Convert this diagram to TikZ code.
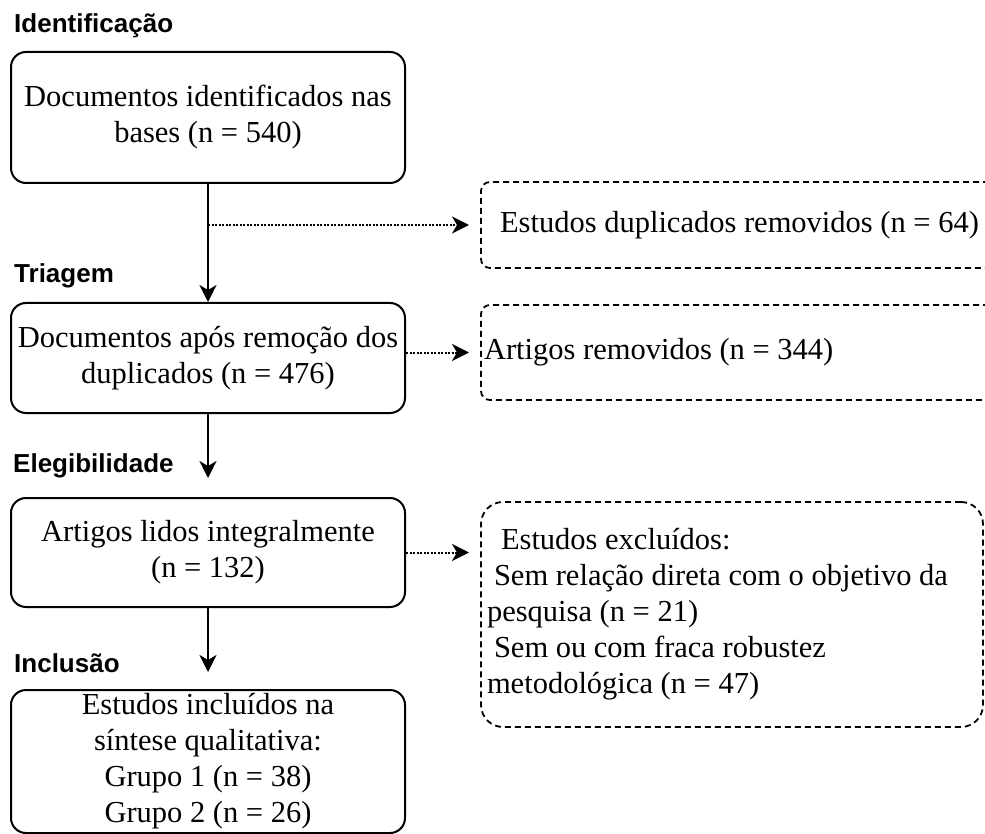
\documentclass[tikz,border=0pt]{standalone}
\usepackage{fontspec}
\setmainfont{Liberation Serif}
\newfontfamily\headfont{Liberation Sans}
\usepackage{tikz}
\usetikzlibrary{arrows.meta, positioning}

\begin{document}
\begin{tikzpicture}[
  x=1pt, y=-1pt,
  stage/.style={rectangle, draw=black, line width=2pt, rounded corners=15pt,
               minimum width=394pt, align=center, inner sep=0pt,
               font=\fontsize{30.5}{36}\selectfont},
  outbox/.style={rectangle, draw=black, line width=1.8pt, dash pattern=on 6pt off 4pt,
               rounded corners=9pt, inner xsep=5pt, inner ysep=0pt,
               outer xsep=12pt, outer ysep=0pt,
               font=\fontsize{30.5}{36}\selectfont},
  phase/.style={anchor=base west, inner sep=0pt,
               font=\headfont\bfseries\fontsize{26}{30}\selectfont},
  arrow/.style={-{Stealth[length=17pt, width=17pt, inset=5pt]}, line width=2pt},
  dotarrow/.style={arrow, dash pattern=on 2pt off 1.5pt}
]
\useasboundingbox (0,0) rectangle (985,834);

% stages
\node[phase] (hident) at (14,33) {Identificação};
\node[phase] (htriag) at (14,283) {Triagem};
\node[phase] (heleg) at (13,472) {Elegibilidade};
\node[phase] (hincl) at (14,672) {Inclusão};

\node[stage, minimum height=131pt] (ident) at (208,117.5) {%
  Documentos identificados nas\\bases (n = 540)};
\node[stage, minimum height=110pt, below=118pt of ident] (triag) {%
  Documentos após remoção dos\\duplicados (n = 476)};
\node[stage, minimum height=109pt, below=83pt of triag] (eleg) {%
  Artigos lidos integralmente\\(n = 132)};
\node[stage, minimum height=143pt, below=81pt of eleg] (incl) {%
  Estudos incluídos na\\síntese qualitativa:\\Grupo 1 (n = 38)\\Grupo 2 (n = 26)};

% removed / excluded
\node[outbox, minimum width=517pt, minimum height=86pt] (dup) at (739.5,225) {%
  Estudos duplicados removidos (n = 64)};
\node[outbox, inner xsep=3pt, minimum width=517pt, minimum height=95pt,
      text width=511pt, align=flush left] (rem) at (739.5,352.5) {%
  Artigos removidos (n = 344)};
\node[outbox, rounded corners=22pt, inner xsep=6pt, minimum width=502pt,
      minimum height=225pt, text width=490pt, align=flush left] (excl) at (732,614.5) {%
  \hspace*{14pt}Estudos excluídos:\\
  \hspace*{7pt}Sem relação direta com o objetivo da\\
  pesquisa (n = 21)\\
  \hspace*{7pt}Sem ou com fraca robustez\\
  metodológica (n = 47)};

\draw[arrow] (ident) -- (triag);
\draw[dotarrow] (ident.south |- dup.west) -- (dup.west);
\draw[arrow, shorten >=19pt] (triag) -- (eleg);
\draw[dotarrow] (triag.east |- rem.west) -- (rem.west);
\draw[arrow, shorten >=17pt] (eleg) -- (incl);
\draw[dotarrow] (eleg.east) -- (eleg.east -| excl.west);

\end{tikzpicture}
\end{document}
